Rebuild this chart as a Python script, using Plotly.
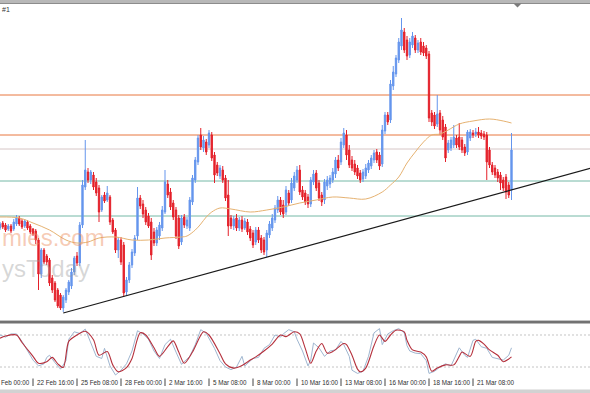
import plotly.graph_objects as go

# ---------------- data (H4 bars, bar 0 = 22 Feb 16:00) ----------------
FIRST_BAR = -12

open_ = [
    172, 177, 175, 171, 174, 171, 176, 182, 179, 174,
    178, 174, 171, 169, 160, 126, 150, 144, 140, 122,
    117, 110, 105, 92, 100, 108, 114, 128, 144, 137,
    175, 213, 228, 220, 225, 218, 212, 190, 205, 200,
    203, 180, 170, 150, 160, 155, 108, 120, 135, 147,
    164, 202, 196, 190, 184, 178, 168, 157, 164, 172,
    188, 216, 208, 197, 190, 182, 158, 183, 174, 172,
    198, 220, 238, 265, 252, 258, 255, 265, 245, 235,
    224, 230, 222, 205, 182, 174, 182, 172, 180, 172,
    178, 171, 167, 158, 170, 162, 160, 150, 165, 172,
    180, 190, 200, 195, 188, 207, 200, 212, 220, 230,
    210, 207, 203, 196, 218, 227, 217, 205, 200, 214,
    216, 220, 226, 240, 238, 255, 265, 250, 240, 236,
    232, 227, 221, 224, 230, 234, 240, 248, 245, 236,
    269, 285, 280, 314, 326, 340, 354, 368, 360, 345,
    355, 362, 350, 358, 354, 352, 346, 287, 285, 276,
    287, 280, 273, 250, 252, 255, 262, 263, 260, 253,
    248, 262, 267, 266, 268, 267, 266, 265, 250, 235,
    232, 228, 225, 220, 223, 215, 210,
]
high = [
    178, 179, 177, 176, 176, 181, 185, 184, 181, 181,
    180, 176, 172, 171, 162, 152, 152, 146, 142, 125,
    119, 112, 107, 105, 112, 120, 132, 144, 148, 178,
    220, 260, 232, 230, 228, 222, 215, 205, 208, 214,
    205, 182, 172, 163, 163, 158, 123, 138, 151, 165,
    213, 205, 200, 193, 187, 182, 172, 173, 178, 194,
    230, 220, 212, 200, 193, 185, 185, 186, 183, 203,
    225, 243, 265, 272, 264, 261, 270, 268, 248, 238,
    235, 234, 225, 220, 185, 184, 186, 183, 184, 182,
    181, 174, 170, 173, 173, 165, 163, 170, 179, 186,
    195, 204, 203, 200, 214, 210, 222, 228, 234, 235,
    214, 210, 206, 223, 230, 230, 220, 208, 221, 224,
    225, 232, 243, 245, 262, 272, 270, 255, 244, 240,
    235, 230, 231, 236, 240, 245, 250, 251, 248, 275,
    288, 288, 320, 334, 345, 362, 382, 372, 364, 362,
    368, 365, 360, 362, 358, 355, 349, 290, 288, 305,
    290, 284, 276, 260, 263, 275, 265, 277, 263, 256,
    270, 271, 270, 272, 273, 270, 269, 268, 253, 238,
    235, 231, 228, 223, 226, 218, 267,
]
low = [
    170, 171, 168, 169, 167, 169, 174, 174, 171, 172,
    170, 166, 164, 156, 110, 122, 136, 135, 114, 107,
    98, 92, 90, 88, 97, 105, 111, 125, 134, 134,
    172, 210, 217, 216, 210, 204, 178, 188, 197, 198,
    175, 166, 147, 142, 135, 103, 105, 117, 132, 144,
    160, 191, 182, 175, 172, 140, 154, 154, 160, 169,
    186, 202, 190, 180, 161, 151, 155, 172, 171, 169,
    195, 217, 235, 250, 248, 245, 252, 239, 217, 224,
    221, 217, 199, 164, 171, 170, 169, 169, 168, 170,
    165, 159, 152, 155, 157, 147, 145, 143, 162, 169,
    177, 187, 185, 182, 185, 194, 197, 209, 217, 205,
    200, 195, 192, 193, 215, 209, 199, 194, 196, 210,
    212, 217, 222, 229, 235, 252, 240, 232, 229, 225,
    221, 217, 218, 221, 227, 231, 237, 237, 230, 233,
    266, 275, 277, 310, 323, 337, 350, 347, 340, 342,
    352, 347, 347, 345, 344, 341, 278, 274, 271, 273,
    265, 260, 238, 247, 249, 252, 252, 250, 247, 244,
    245, 259, 262, 263, 262, 261, 260, 220, 232, 225,
    222, 218, 210, 209, 201, 202, 200,
]
close = [
    176, 173, 170, 174, 169, 178, 182, 176, 173, 179,
    172, 168, 166, 160, 126, 150, 138, 138, 117, 110,
    100, 94, 92, 103, 110, 118, 128, 142, 137, 175,
    215, 230, 220, 228, 213, 207, 188, 203, 199, 207,
    178, 168, 150, 160, 138, 107, 120, 135, 148, 162,
    202, 194, 186, 178, 174, 145, 157, 170, 175, 190,
    218, 205, 193, 183, 164, 154, 182, 175, 180, 200,
    222, 240, 262, 253, 260, 248, 267, 242, 225, 227,
    232, 220, 202, 174, 174, 181, 172, 180, 171, 179,
    168, 162, 155, 170, 160, 150, 148, 167, 176, 182,
    192, 200, 188, 186, 210, 197, 217, 224, 230, 208,
    203, 198, 196, 220, 226, 212, 202, 198, 218, 220,
    222, 228, 240, 232, 258, 267, 245, 235, 232, 228,
    224, 220, 228, 232, 237, 242, 247, 240, 234, 270,
    285, 278, 316, 328, 342, 358, 370, 350, 344, 358,
    364, 350, 357, 348, 347, 344, 282, 278, 274, 286,
    270, 263, 242, 257, 260, 263, 255, 253, 250, 247,
    268, 268, 265, 268, 265, 264, 263, 238, 235, 228,
    225, 222, 217, 212, 208, 205, 250,
]

# moving average (bar, price)
ma_bars = [-12, -5, 0, 6, 12, 16, 20, 24, 30, 36, 42, 48, 54, 56, 59, 61, 63, 65, 68,
           72, 79, 85, 91, 97, 103, 109, 115, 121, 127, 130, 133, 136, 139, 142, 145,
           148, 151, 155, 160, 166, 171, 174]
ma_vals = [183, 182, 177, 170, 160, 157, 158, 162, 163, 160, 160, 162, 163, 164, 170, 176, 183, 188, 192,
           191, 188, 190, 193, 197, 200, 203, 202, 201, 208, 215, 223, 237, 248, 258, 265,
           266, 270, 276, 279, 281, 279, 277]

# trend line (bar, price)
trend_bars = [11, 210]
trend_prices = [87, 237.2]

# horizontal levels (price)
orange_levels = [305, 265]
grey_levels = [251]
teal_levels = [219, 184]

# stochastic oscillator: signal (red) and main (light)
sig_bars = [-12, -10, -6, -4, 0, 2, 5, 7, 9, 11, 13, 16, 19, 22, 24, 27, 29, 31, 34, 36,
            39, 41, 44, 46, 49, 51, 53, 55, 58, 62, 64, 68, 70, 73, 76, 79, 81, 84, 87, 90,
            92, 95, 97, 99, 101, 103, 105, 107, 109, 113, 114, 116, 118, 119, 121, 124, 126, 128, 130, 132,
            135, 136, 138, 141, 143, 145, 147, 150, 153, 155, 156, 159, 161, 162, 164, 166, 169, 171, 173, 174]
sig_vals = [74, 78, 80, 66, 40, 27, 30, 38, 26, 19, 68, 80, 87, 71, 42, 49, 24, 11, 19, 36,
            84, 80, 56, 40, 58, 69, 48, 27, 48, 86, 80, 45, 26, 18, 23, 33, 39, 50, 63, 80,
            77, 86, 82, 55, 27, 50, 64, 46, 49, 64, 62, 42, 16, 11, 18, 60, 80, 68, 80, 89,
            86, 70, 52, 48, 39, 12, 18, 24, 24, 40, 48, 40, 68, 70, 63, 52, 42, 30, 35, 39]

main_bars = [-12, -10, -8, -6, -4, -2, 0, 2, 4, 5, 6, 8, 10, 12, 13, 15, 17, 19, 21, 23,
             25, 26, 28, 30, 32, 34, 36, 38, 40, 42, 44, 46, 48, 50, 52, 54, 57, 59, 61, 63,
             66, 68, 70, 72, 74, 76, 77, 80, 82, 84, 86, 88, 90, 91, 93, 95, 96, 98, 100, 101,
             102, 104, 106, 108, 110, 112, 113, 115, 116, 118, 120, 122, 124, 126, 127, 129, 131, 133, 135, 136,
             137, 139, 141, 143, 144, 146, 148, 150, 152, 154, 155, 157, 158, 160, 161, 163, 165, 167, 169, 171,
             173, 174]
main_vals = [80, 76, 82, 82, 68, 50, 33, 22, 26, 38, 42, 28, 16, 32, 72, 86, 83, 91, 66, 40,
             36, 55, 22, 5, 14, 26, 50, 88, 82, 72, 50, 36, 62, 72, 48, 25, 40, 62, 90, 83,
             55, 32, 20, 15, 20, 40, 22, 36, 38, 55, 62, 80, 76, 82, 90, 86, 72, 50, 22, 33,
             65, 56, 40, 50, 52, 68, 62, 40, 14, 8, 12, 40, 84, 92, 62, 82, 88, 92, 84, 60,
             50, 46, 45, 32, 8, 12, 20, 26, 22, 45, 56, 42, 38, 70, 72, 58, 55, 38, 35, 33,
             42, 56]
stoch_levels = [80, 20]

# time axis labels (bar position, text)
tick_bars = [0, 16, 32, 48, 64, 80, 96, 112, 128, 144, 160]
tick_labels = ["22 Feb 16:00", "25 Feb 08:00", "28 Feb 00:00", "2 Mar 16:00",
               "5 Mar 08:00", "8 Mar 00:00", "10 Mar 16:00", "13 Mar 08:00", "16 Mar 00:00",
               "18 Mar 16:00", "21 Mar 08:00"]
edge_label = "Feb 00:00"   # visible part of the "20 Feb 00:00" label at the left edge

# ---------------- figure ----------------
W, H = 590, 393


def py(px):
    return (H - px) / H


def pxx(px):
    return px / W


BULL = "#6495ED"
BEAR = "#E4202A"

bars = list(range(FIRST_BAR, FIRST_BAR + len(open_)))

fig = go.Figure()

fig.add_trace(go.Candlestick(
    x=bars, open=open_, high=high, low=low, close=close,
    increasing=dict(line=dict(color=BULL, width=1), fillcolor=BULL),
    decreasing=dict(line=dict(color=BEAR, width=1), fillcolor=BEAR),
    whiskerwidth=0, showlegend=False, hoverinfo="skip",
    xaxis="x", yaxis="y"))

fig.add_trace(go.Scatter(
    x=ma_bars, y=ma_vals, mode="lines",
    line=dict(color="#E6B271", width=1, shape="spline", smoothing=1),
    showlegend=False, hoverinfo="skip", xaxis="x", yaxis="y"))

fig.add_trace(go.Scatter(
    x=trend_bars, y=trend_prices, mode="lines",
    line=dict(color="#1a1a1a", width=1.2),
    showlegend=False, hoverinfo="skip", xaxis="x", yaxis="y"))

fig.add_trace(go.Scatter(
    x=main_bars, y=main_vals, mode="lines",
    line=dict(color="#9FB6D0", width=1),
    showlegend=False, hoverinfo="skip", xaxis="x2", yaxis="y2"))

fig.add_trace(go.Scatter(
    x=sig_bars, y=sig_vals, mode="lines",
    line=dict(color="#B5303C", width=1.1, shape="spline", smoothing=0.8),
    showlegend=False, hoverinfo="skip", xaxis="x2", yaxis="y2"))

shapes = []
for lv in orange_levels:
    shapes.append(dict(type="line", xref="paper", yref="y", x0=0, x1=1, y0=lv, y1=lv,
                       line=dict(color="#E8773F", width=1), layer="below"))
for lv in grey_levels:
    shapes.append(dict(type="line", xref="paper", yref="y", x0=0, x1=1, y0=lv, y1=lv,
                       line=dict(color="#D6C6C6", width=1), layer="below"))
for lv in teal_levels:
    shapes.append(dict(type="line", xref="paper", yref="y", x0=0, x1=1, y0=lv, y1=lv,
                       line=dict(color="#74B8A6", width=1), layer="below"))
for lv in stoch_levels:
    shapes.append(dict(type="line", xref="paper", yref="y2", x0=0, x1=1, y0=lv, y1=lv,
                       line=dict(color="#C4C4C4", width=1, dash="2px,2px"), layer="below"))

# window frame pieces (MT4 style)
shapes += [
    dict(type="rect", xref="paper", yref="paper", x0=0, x1=1, y0=py(3), y1=py(0),
         fillcolor="#B8B8B8", line=dict(width=0)),
    dict(type="line", xref="paper", yref="paper", x0=0, x1=1, y0=py(3.5), y1=py(3.5),
         line=dict(color="#8C8C8C", width=1)),
    dict(type="path", xref="paper", yref="paper",
         path=f"M {pxx(513.5)},{py(3.5)} L {pxx(521.5)},{py(3.5)} L {pxx(517.5)},{py(7.5)} Z",
         fillcolor="#7A7A7A", line=dict(width=0)),
    dict(type="line", xref="paper", yref="paper", x0=0, x1=1, y0=py(320.5), y1=py(320.5),
         line=dict(color="#C4C4C4", width=1)),
    dict(type="rect", xref="paper", yref="paper", x0=0, x1=1, y0=py(323.5), y1=py(321),
         fillcolor="#727272", line=dict(width=0)),
    dict(type="rect", xref="paper", yref="paper", x0=0, x1=1, y0=py(393), y1=py(389.5),
         fillcolor="#D2D2D2", line=dict(width=0)),
]
for tb in tick_bars:
    shapes.append(dict(type="line", xref="x", yref="paper", x0=tb, x1=tb, y0=py(386), y1=py(378.5),
                       line=dict(color="#444444", width=1)))

label_font = dict(family="Liberation Sans", size=6.3, color="#303030")
annotations = []
for tb, tl in zip(tick_bars, tick_labels):
    annotations.append(dict(x=tb, xref="x", y=py(382.5), yref="paper", text=tl,
                            showarrow=False, xanchor="left", yanchor="middle", xshift=1.5,
                            font=label_font))

annotations += [
    dict(x=0, xref="paper", y=py(382.5), yref="paper", text=edge_label, showarrow=False,
         xanchor="left", yanchor="middle", xshift=-1, font=label_font),
    dict(x=0, xref="paper", y=py(9), yref="paper", text="#1", showarrow=False,
         xanchor="left", yanchor="middle", xshift=0,
         font=dict(family="Liberation Sans", size=7, color="#333333")),
    dict(x=0, xref="paper", y=py(237), yref="paper", text="mies.com", showarrow=False,
         xanchor="left", yanchor="middle", xshift=0,
         font=dict(family="Liberation Sans", size=24, color="rgba(236,140,92,0.45)")),
    dict(x=0, xref="paper", y=py(268), yref="paper", text="ysToday", showarrow=False,
         xanchor="left", yanchor="middle", xshift=0,
         font=dict(family="Liberation Sans", size=24, color="rgba(150,150,150,0.38)")),
]

x_range = [-12.0, 202.545]
axis_off = dict(visible=False, showgrid=False, zeroline=False, fixedrange=True)

fig.update_layout(
    width=W, height=H,
    margin=dict(l=0, r=0, t=0, b=0, pad=0),
    paper_bgcolor="white", plot_bgcolor="white",
    showlegend=False,
    xaxis=dict(domain=[0, 1], range=x_range, anchor="y", rangeslider=dict(visible=False), **axis_off),
    yaxis=dict(domain=[py(320), py(4)], range=[80, 396], anchor="x", **axis_off),
    xaxis2=dict(domain=[0, 1], range=x_range, anchor="y2", matches="x", **axis_off),
    yaxis2=dict(domain=[py(378), py(324)], range=[-0.6, 100.6], anchor="x2", **axis_off),
    shapes=shapes,
    annotations=annotations,
    boxgap=0.3,
)

fig.write_html("out.html", config=dict(displayModeBar=False))
